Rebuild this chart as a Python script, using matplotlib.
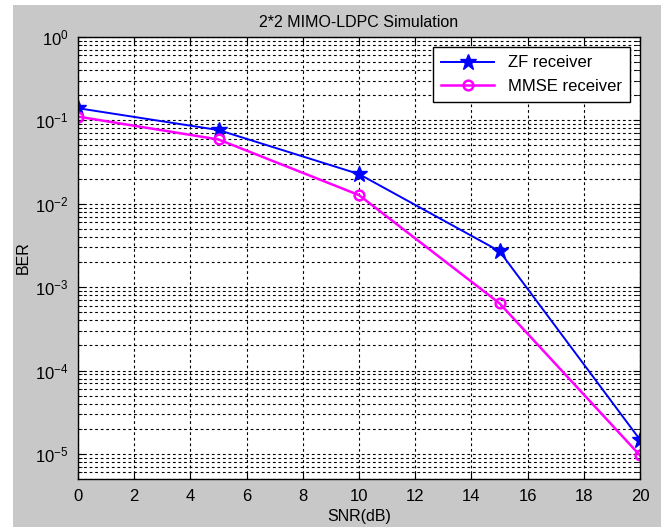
#!/usr/bin/env python3
"""
BER curves of ZF and MMSE receivers for a 2x2 MIMO-LDPC link
"""
import matplotlib
matplotlib.use("Agg")
import matplotlib.pyplot as plt
from matplotlib.patches import Rectangle
from matplotlib.ticker import LogLocator, NullFormatter

snr_db = [0, 5, 10, 15, 20]
ber_zf = [0.14, 0.0766, 0.0227, 0.0027, 1.48e-5]
ber_mmse = [0.111, 0.059, 0.0127, 6.4e-4, 9.6e-6]
x_ticks = list(range(0, 21, 2))


def main():
    plt.rcParams['font.family'] = ['Liberation Sans', 'DejaVu Sans']
    plt.rcParams['mathtext.fontset'] = 'custom'
    plt.rcParams['mathtext.rm'] = 'Liberation Sans'
    plt.rcParams['mathtext.it'] = 'Liberation Sans'

    fig = plt.figure(figsize=(6.65, 5.27), dpi=100, facecolor='white')
    # grey MATLAB-like figure area with thin white border of the screenshot
    fig.patches.append(Rectangle((13 / 665, 0), (661 - 13) / 665, 1 - 5 / 527,
                                 transform=fig.transFigure, facecolor='#c8c8c8',
                                 edgecolor='none', zorder=-10))
    ax = fig.add_axes([78 / 665, 1 - 479 / 527, (640 - 78) / 665, (479 - 37) / 527])
    ax.set_facecolor('white')

    ax.semilogy(snr_db, ber_zf, '-*', color='blue', lw=1.4, ms=12,
                label='ZF receiver')
    ax.semilogy(snr_db, ber_mmse, '-o', color='magenta', lw=1.8, ms=7,
                mfc='none', mew=1.8, label='MMSE receiver')

    ax.set_xlim(0, 20)
    ax.set_ylim(5e-6, 1)
    ax.set_xticks(x_ticks)
    ax.yaxis.set_major_locator(LogLocator(base=10, numticks=10))
    ax.yaxis.set_minor_locator(LogLocator(base=10, subs=range(2, 10), numticks=20))
    ax.yaxis.set_minor_formatter(NullFormatter())

    ax.grid(True, which='major', ls=(0, (2.5, 2.5)), color='black', lw=0.8)
    ax.grid(True, which='minor', axis='y', ls=(0, (2.5, 2.5)), color='black', lw=0.8)
    ax.tick_params(which='both', direction='in', top=True, right=True,
                   labelsize=12, colors='black')
    ax.tick_params(which='major', length=5, pad=7)
    ax.tick_params(which='minor', length=3)
    for s in ax.spines.values():
        s.set_linewidth(1.0)

    ax.set_title('2*2 MIMO-LDPC Simulation', fontsize=11.5, pad=7)
    ax.set_xlabel('SNR(dB)', fontsize=11.5, labelpad=4)
    ax.set_ylabel('BER', fontsize=11.5, labelpad=3)

    leg = ax.legend(loc='upper right', fontsize=12, fancybox=False,
                    framealpha=1, edgecolor='black', borderaxespad=0.6,
                    handlelength=3.2, borderpad=0.5, labelspacing=0.5)
    leg.get_frame().set_linewidth(1.0)

    fig.savefig('out.png', dpi=100, facecolor=fig.get_facecolor())


if __name__ == '__main__':
    main()
